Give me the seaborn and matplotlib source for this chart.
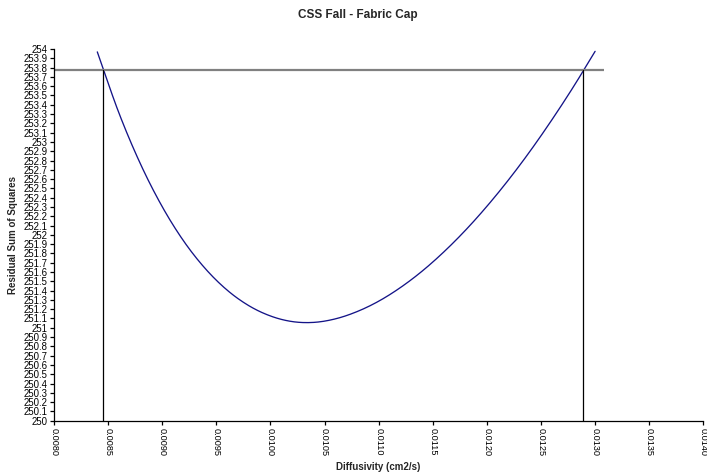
import numpy as np
import pandas as pd
import matplotlib
matplotlib.use("Agg")
import matplotlib.pyplot as plt
from matplotlib.ticker import FuncFormatter, MultipleLocator
import seaborn as sns

# Residual sum of squares versus trial diffusivity
diffusivity = [0.0084, 0.0086, 0.0088, 0.0090, 0.0092, 0.0094, 0.0096, 0.0098,
               0.0100, 0.0102, 0.0104, 0.0106, 0.0108, 0.0110, 0.0112, 0.0114,
               0.0116, 0.0118, 0.0120, 0.0122, 0.0124, 0.0126, 0.0128, 0.0130]
rss = [253.969, 253.311, 252.760, 252.303, 251.930, 251.634, 251.405, 251.238,
       251.127, 251.067, 251.058, 251.096, 251.174, 251.286, 251.432, 251.608,
       251.814, 252.047, 252.307, 252.592, 252.902, 253.237, 253.594, 253.975]

# Confidence threshold and the diffusivities where the curve crosses it
rss_threshold = 253.777
d_lower = 0.00845
d_upper = 0.01289
threshold_end = 0.01308

x_ticks = [0.0080, 0.0085, 0.0090, 0.0095, 0.0100, 0.0105, 0.0110,
           0.0115, 0.0120, 0.0125, 0.0130, 0.0135, 0.0140]


def smooth(xs, ys, n=20):
    """Catmull-Rom spline through the points for a smoothed line."""
    xs = np.asarray(xs, float)
    ys = np.asarray(ys, float)
    px = np.concatenate([[2 * xs[0] - xs[1]], xs, [2 * xs[-1] - xs[-2]]])
    py = np.concatenate([[2 * ys[0] - ys[1]], ys, [2 * ys[-1] - ys[-2]]])
    t = np.linspace(0, 1, n, endpoint=False)
    ox, oy = [], []
    for i in range(1, len(px) - 2):
        for p, out in ((px, ox), (py, oy)):
            p0, p1, p2, p3 = p[i - 1], p[i], p[i + 1], p[i + 2]
            out.extend(0.5 * (2 * p1 + (-p0 + p2) * t
                              + (2 * p0 - 5 * p1 + 4 * p2 - p3) * t ** 2
                              + (-p0 + 3 * p1 - 3 * p2 + p3) * t ** 3))
    ox.append(xs[-1])
    oy.append(ys[-1])
    return np.array(ox), np.array(oy)


sx, sy = smooth(diffusivity, rss)
curve = pd.DataFrame({"Diffusivity": sx, "RSS": sy})

sns.set_theme(style="ticks")
plt.rcParams["font.family"] = ["Liberation Sans", "DejaVu Sans"]

fig = plt.figure(figsize=(7.07, 4.75), dpi=100)
ax = fig.add_axes([0.0764, 0.1143, 0.9184, 0.7825])

sns.lineplot(data=curve, x="Diffusivity", y="RSS", ax=ax, color="#141488",
             linewidth=0.95, sort=False, estimator=None)

ax.plot([0.0080, threshold_end], [rss_threshold, rss_threshold],
        color="#808080", linewidth=1.6, solid_capstyle="butt")
for d in (d_lower, d_upper):
    ax.plot([d, d], [250, rss_threshold], color="black", linewidth=0.9)

ax.set_xlim(0.0080, 0.0140)
ax.set_ylim(250, 254)
ax.set_xticks(x_ticks)
ax.yaxis.set_major_locator(MultipleLocator(0.1))
ax.xaxis.set_major_formatter(FuncFormatter(lambda v, p: f"{v:.4f}"))
ax.yaxis.set_major_formatter(FuncFormatter(lambda v, p: f"{round(v, 1):g}"))

ax.tick_params(axis="both", labelsize=6.6, length=3.2, width=0.9,
               color="black", labelcolor="black", pad=1.5)
ax.tick_params(axis="y", labelsize=6.9)
ax.tick_params(axis="x", labelrotation=-90, pad=2)
for lbl in ax.get_xticklabels():
    lbl.set_verticalalignment("top")
    lbl.set_horizontalalignment("center")

for side in ("top", "right"):
    ax.spines[side].set_visible(False)
for side in ("left", "bottom"):
    ax.spines[side].set_color("black")
    ax.spines[side].set_linewidth(0.9)

ax.set_xlabel("Diffusivity (cm2/s)", fontsize=7, fontweight="bold", labelpad=4)
ax.set_ylabel("Residual Sum of Squares", fontsize=7, fontweight="bold", labelpad=4)
fig.text(0.506, 0.968, "CSS Fall - Fabric Cap", ha="center", va="center",
         fontsize=8.5, fontweight="bold")

fig.savefig("out.png", dpi=100, facecolor="white")
